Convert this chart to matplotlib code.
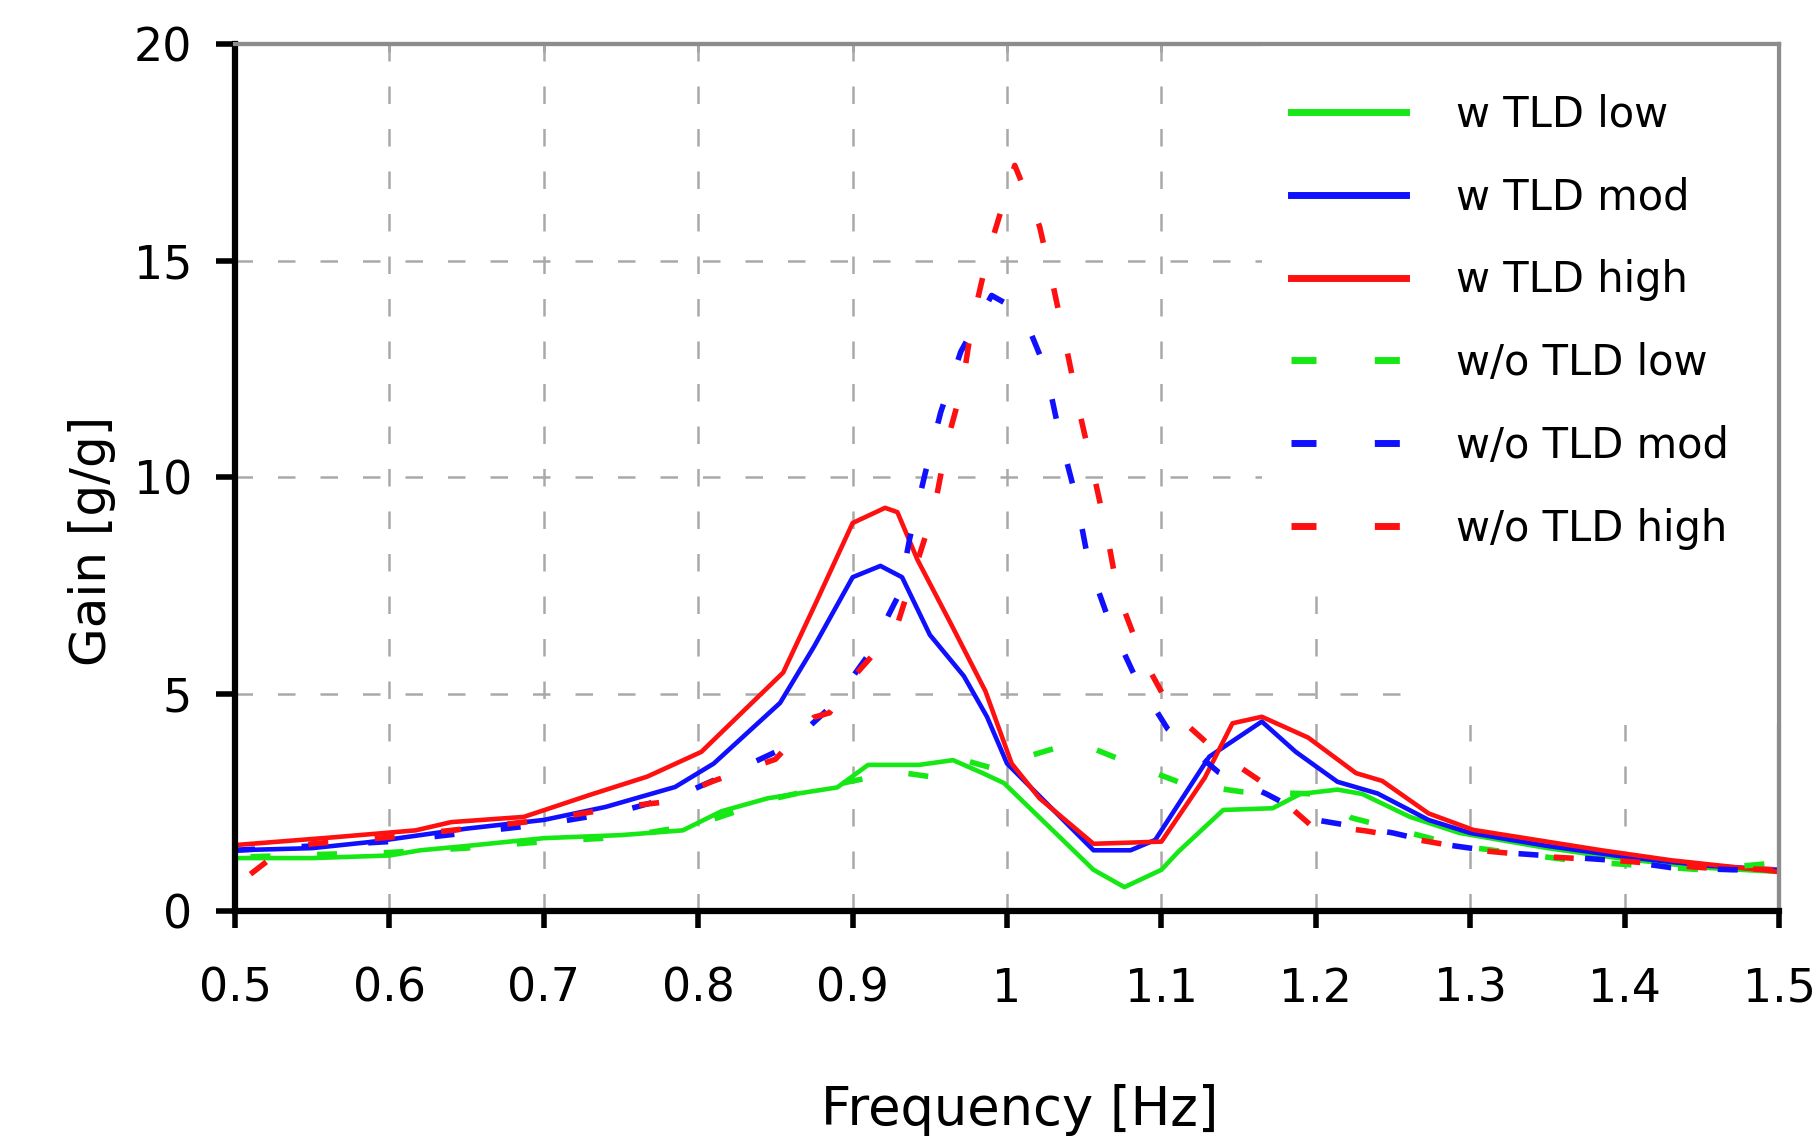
import matplotlib.pyplot as plt
from matplotlib.patches import Rectangle

# ---- data ----
# with TLD (solid lines)
freq_w_low = [0.50, 0.55, 0.60, 0.62, 0.65, 0.70, 0.75, 0.79, 0.815, 0.845, 0.89, 0.91,
              0.943, 0.965, 0.983, 0.998, 1.056, 1.076, 1.10, 1.111, 1.14, 1.172, 1.19,
              1.214, 1.23, 1.261, 1.293, 1.35, 1.40, 1.45, 1.50]
gain_w_low = [1.22, 1.22, 1.28, 1.40, 1.50, 1.68, 1.75, 1.86, 2.30, 2.60, 2.85, 3.37,
              3.37, 3.48, 3.20, 2.95, 0.95, 0.55, 0.95, 1.37, 2.33, 2.37, 2.70,
              2.80, 2.70, 2.17, 1.80, 1.45, 1.20, 1.00, 0.90]

freq_w_mod = [0.50, 0.55, 0.59, 0.65, 0.70, 0.74, 0.785, 0.81, 0.853, 0.875, 0.90, 0.918,
              0.932, 0.95, 0.972, 0.987, 1.00, 1.056, 1.08, 1.096, 1.131, 1.165, 1.187,
              1.214, 1.24, 1.273, 1.30, 1.35, 1.40, 1.45, 1.50]
gain_w_mod = [1.40, 1.45, 1.60, 1.90, 2.10, 2.40, 2.86, 3.40, 4.80, 6.10, 7.70, 7.96,
              7.70, 6.37, 5.42, 4.48, 3.40, 1.40, 1.40, 1.64, 3.56, 4.37, 3.67,
              2.98, 2.71, 2.10, 1.80, 1.50, 1.25, 1.05, 0.95]

freq_w_high = [0.50, 0.564, 0.617, 0.64, 0.687, 0.73, 0.767, 0.802, 0.855, 0.877, 0.90,
               0.921, 0.929, 0.942, 0.964, 0.986, 1.003, 1.021, 1.056, 1.10, 1.128, 1.146,
               1.165, 1.195, 1.226, 1.243, 1.273, 1.302, 1.332, 1.385, 1.43, 1.50]
gain_w_high = [1.52, 1.70, 1.86, 2.05, 2.17, 2.68, 3.10, 3.67, 5.50, 7.17, 8.95,
               9.30, 9.20, 8.10, 6.60, 5.07, 3.40, 2.60, 1.55, 1.60, 3.07, 4.33,
               4.48, 4.00, 3.18, 3.00, 2.25, 1.87, 1.70, 1.40, 1.17, 0.90]

# without TLD (dashed lines)
freq_wo_low = [0.51, 0.55, 0.60, 0.65, 0.70, 0.75, 0.80, 0.85, 0.90, 0.93, 0.95, 0.97,
               0.99, 1.007, 1.045, 1.08, 1.113, 1.152, 1.20, 1.223, 1.261, 1.293, 1.37,
               1.45, 1.495]
gain_wo_low = [1.25, 1.30, 1.35, 1.45, 1.60, 1.70, 2.00, 2.60, 3.00, 3.20, 3.10, 3.50,
               3.30, 3.50, 3.90, 3.40, 2.95, 2.75, 2.70, 2.15, 1.80, 1.50, 1.15,
               0.95, 1.10]

freq_wo_mod = [0.50, 0.55, 0.60, 0.65, 0.70, 0.75, 0.79, 0.825, 0.858, 0.887, 0.91, 0.93,
               0.937, 0.947, 0.957, 0.97, 0.99, 1.01, 1.025, 1.034, 1.045, 1.053, 1.066,
               1.083, 1.104, 1.137, 1.168, 1.20, 1.25, 1.28, 1.32, 1.36, 1.40, 1.43,
               1.47, 1.50]
gain_wo_mod = [1.40, 1.50, 1.60, 1.80, 2.00, 2.30, 2.70, 3.25, 3.80, 4.75, 5.90, 7.30,
               8.60, 10.1, 11.5, 12.9, 14.2, 13.8, 12.5, 11.0, 9.50, 8.00, 6.70,
               5.40, 4.20, 3.20, 2.70, 2.10, 1.80, 1.55, 1.35, 1.25, 1.15, 1.00,
               0.95, 0.95]

freq_wo_high = [0.51, 0.53, 0.55, 0.60, 0.65, 0.70, 0.75, 0.775, 0.81, 0.85, 0.875, 0.885,
                0.903, 0.928, 0.953, 0.961, 0.971, 0.977, 0.988, 1.005, 1.021, 1.03,
                1.039, 1.047, 1.056, 1.065, 1.072, 1.087, 1.107, 1.135, 1.164, 1.196,
                1.232, 1.273, 1.305, 1.35, 1.40, 1.45, 1.50]
gain_wo_high = [0.85, 1.40, 1.55, 1.70, 1.90, 2.10, 2.40, 2.50, 3.00, 3.50, 4.47, 4.57,
                5.50, 6.50, 9.30, 10.8, 12.1, 13.5, 15.2, 17.2, 15.8, 14.4,
                12.9, 11.5, 10.1, 8.65, 7.30, 5.90, 4.60, 3.70, 3.00, 2.00,
                1.85, 1.60, 1.40, 1.25, 1.15, 1.00, 0.95]

labels = ['w TLD low', 'w TLD mod', 'w TLD high',
          'w/o TLD low', 'w/o TLD mod', 'w/o TLD high']
x_ticks = [0.5, 0.6, 0.7, 0.8, 0.9, 1.0, 1.1, 1.2, 1.3, 1.4, 1.5]
x_tick_labels = ['0.5', '0.6', '0.7', '0.8', '0.9', '1', '1.1', '1.2', '1.3', '1.4', '1.5']
y_ticks = [0, 5, 10, 15, 20]

GREEN = '#16e816'
BLUE = '#1010ff'
RED = '#ff1010'
dash = (0, (3.6, 8.4))

fig = plt.figure(figsize=(18.15, 11.4), dpi=100)
ax = fig.add_axes([0.1295, 0.2009, 0.8507, 0.7605])

lw = 3.3
ax.plot(freq_w_low, gain_w_low, color=GREEN, lw=lw, label=labels[0])
ax.plot(freq_w_mod, gain_w_mod, color=BLUE, lw=lw, label=labels[1])
ax.plot(freq_w_high, gain_w_high, color=RED, lw=lw, label=labels[2])
ax.plot(freq_wo_low, gain_wo_low, color=GREEN, lw=lw + 0.7, ls=dash, label=labels[3])
ax.plot(freq_wo_mod, gain_wo_mod, color=BLUE, lw=lw + 0.7, ls=dash, label=labels[4])
ax.plot(freq_wo_high, gain_wo_high, color=RED, lw=lw + 0.7, ls=dash, label=labels[5])

ax.set_xlim(0.5, 1.5)
ax.set_ylim(0, 20)
ax.set_xticks(x_ticks)
ax.set_xticklabels(x_tick_labels)
ax.set_yticks(y_ticks)

# dashed grey grid, blanked out behind the legend
ax.grid(True, color='#a9a9a9', linestyle=(0, (7, 10)), linewidth=1.8)
for rect in [(0.665, 0.39, 0.335, 0.61), (0.76, 0.215, 0.24, 0.2)]:
    ax.add_patch(Rectangle(rect[:2], rect[2], rect[3], transform=ax.transAxes,
                           facecolor='white', edgecolor='none', zorder=1.8))

# spines: heavy black left/bottom, grey top/right
for side in ['left', 'bottom']:
    ax.spines[side].set_linewidth(4.5)
    ax.spines[side].set_color('black')
for side in ['top', 'right']:
    ax.spines[side].set_linewidth(3)
    ax.spines[side].set_color('#8c8c8c')

ax.tick_params(axis='both', direction='out', width=4, colors='black', labelsize=33)
ax.tick_params(axis='y', length=14, pad=17)
ax.tick_params(axis='x', length=12, pad=28)

# small grey inner ticks along top and right
top = ax.secondary_xaxis('top')
top.set_xticks(x_ticks)
top.tick_params(direction='in', length=6, width=2, colors='#8c8c8c', labeltop=False)
top.spines['top'].set_color('#8c8c8c')
top.spines['top'].set_linewidth(3)
right = ax.secondary_yaxis('right')
right.set_yticks(y_ticks)
right.tick_params(direction='in', length=6, width=2, colors='#8c8c8c', labelright=False)
right.spines['right'].set_color('#8c8c8c')
right.spines['right'].set_linewidth(3)

ax.set_xlabel('Frequency [Hz]', fontsize=38)
ax.set_ylabel('Gain [g/g]', fontsize=36)
ax.xaxis.set_label_coords(0.508, -0.2)
ax.yaxis.set_label_coords(-0.077, 0.427)

leg = ax.legend(loc='upper left', bbox_to_anchor=(0.684, 0.943), frameon=False,
                fontsize=30, handlelength=2.76, handletextpad=1.2,
                labelspacing=0.98, borderpad=0, borderaxespad=0)
for line in leg.get_lines():
    line.set_linewidth(5)

fig.savefig('out.png', dpi=100)
